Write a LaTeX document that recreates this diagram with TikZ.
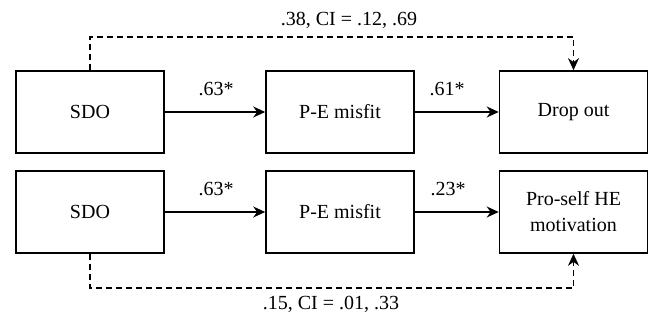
\documentclass[tikz,border=0pt]{standalone}
\usepackage{fontspec}
\setmainfont{Liberation Serif}
\usetikzlibrary{arrows.meta,calc}
\begin{document}
\begin{tikzpicture}[x=1pt,y=1pt,
  box/.style={draw, line width=1.6pt, minimum width=148pt, minimum height=82pt, inner sep=0pt, align=center, font=\fontsize{20}{26}\selectfont},
  lbl/.style={inner sep=0pt, font=\fontsize{20}{24}\selectfont},
  conn/.style={line width=1.6pt, -{Stealth[length=12pt,width=11pt]}},
  dconn/.style={line width=1.6pt, dash pattern=on 6pt off 4pt, -{Stealth[length=12pt,width=11pt]}}]
\useasboundingbox (0,0) rectangle (649,320);
% top row
\node[box] (sdoA) at (90,208) {SDO};
\node[box] (peA) at (340,208) {P-E misfit};
\node[box] (drop) at (573.5,208) {Drop out};
% bottom row
\node[box] (sdoB) at (90,108) {SDO};
\node[box] (peB) at (340,108) {P-E misfit};
\node[box] (pro) at (573.5,108) {Pro-self HE\\motivation};
% solid arrows
\draw[conn] (sdoA.east) -- (peA.west);
\draw[conn] (peA.east) -- (drop.west);
\draw[conn] (sdoB.east) -- (peB.west);
\draw[conn] (peB.east) -- (pro.west);
% labels
\node[lbl] (l1) at (216,231) {.63*};
\node[lbl] (l2) at (447,231) {.61*};
\node[lbl] (l3) at (216,131) {.63*};
\node[lbl] (l4) at (448,131) {.23*};
% dashed paths
\coordinate (topy) at (0,283);
\coordinate (boty) at (0,32);
\draw[dconn] (sdoA.north) -- (sdoA.north |- topy) -| (drop.north);
\draw[dconn] (sdoB.south) -- (sdoB.south |- boty) -| (pro.south);
\node[lbl] (t1) at (349,300) {.38, CI = .12, .69};
\node[lbl] (t2) at (331,16) {.15, CI = .01, .33};
\end{tikzpicture}
\end{document}
